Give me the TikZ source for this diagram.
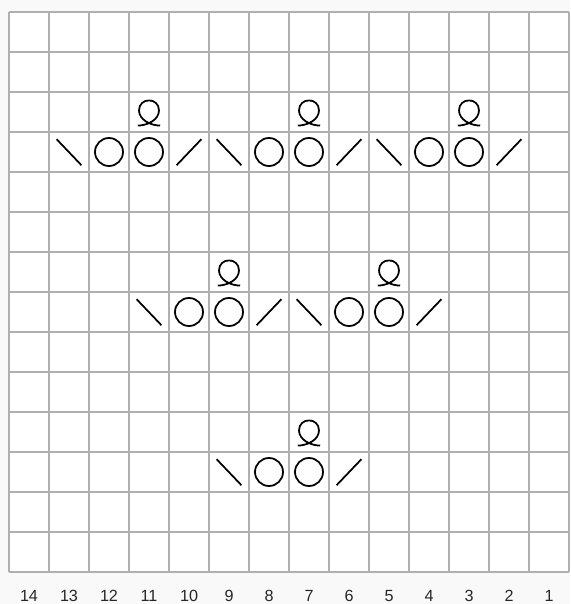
\documentclass[tikz,border=0pt]{standalone}
\usepackage{fontspec}
\setmainfont{Liberation Sans}

\begin{document}
\begin{tikzpicture}[gridline/.style={draw=gray!62,line width=1.5pt},sym/.style={draw=black,line width=1.25pt},
  yo/.pic={\draw[sym] (0,0) circle (0.35);},
  dec/.pic={\draw[sym] (-0.31,0.32) -- (0.31,-0.33);},
  inc/.pic={\draw[sym] (-0.31,-0.33) -- (0.31,0.32);},
  lp/.pic={\draw[sym] (-0.28,-0.34) .. controls (-0.05,-0.34) and (0.25,-0.2) .. (0.25,0.04) .. controls (0.25,0.2) and (0.13,0.29) .. (0,0.29) .. controls (-0.13,0.29) and (-0.25,0.2) .. (-0.25,0.04) .. controls (-0.25,-0.2) and (0.05,-0.34) .. (0.28,-0.34);},
  num/.style={font=\fontsize{11.5}{13}\selectfont,text=black!85,inner sep=0pt}]
\useasboundingbox[fill=gray!5] (-0.225,-0.8) rectangle (14.025,14.3);
\fill[white] (0,0) rectangle (14,14);
\draw[gridline] (0,0) grid (14,14);
% column numbers
\foreach \i in {1,...,14} \node[num] (n\i) at (14.5-\i,-0.6) {\i};
% motifs: left column / row from top
\foreach \a/\r in {1/3,5/3,9/3,3/7,7/7,5/11}{
  \pic at (\a+0.5,13.5-\r) {dec};
  \pic at (\a+1.5,13.5-\r) {yo};
  \pic at (\a+2.5,13.5-\r) {yo};
  \pic at (\a+3.5,13.5-\r) {inc};
  \pic at (\a+2.5,14.5-\r) {lp};
}
\end{tikzpicture}
\end{document}
